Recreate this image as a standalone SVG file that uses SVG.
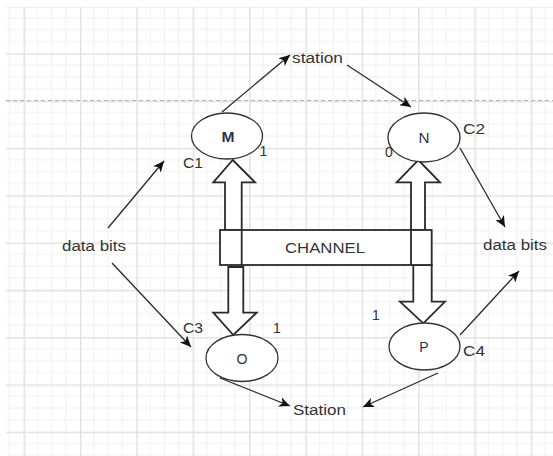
<svg xmlns="http://www.w3.org/2000/svg" width="553" height="456" viewBox="0 0 553 456">
  <style>
    .lbl { font-family: "Liberation Sans", Arial, sans-serif; font-size: 14px; fill: #333333; }
    .node-letter { font-family: "Liberation Sans", Arial, sans-serif; font-size: 14px; fill: #30304a; text-anchor: middle; }
    .node { fill: #ffffff; stroke: #333333; stroke-width: 1.3; }
    .block { fill: #ffffff; stroke: #2a2a2a; stroke-width: 1.8; stroke-linejoin: miter; }
    .conn { fill: none; stroke: #2a2a2a; stroke-width: 1.3; marker-end: url(#arrow); }
  </style>
  <defs>
    <marker id="arrow" markerUnits="userSpaceOnUse" markerWidth="12" markerHeight="10" refX="11" refY="5" orient="auto">
      <path d="M0,0 L11,5 L0,10 L3,5 z" fill="#111111"/>
    </marker>
    <pattern id="grid" patternUnits="userSpaceOnUse" x="23.6" y="53.3" width="56.35" height="47.3">
      <g stroke="#f0f0f0" stroke-width="1">
        <line x1="14.09" y1="0" x2="14.09" y2="47.3"/>
        <line x1="28.18" y1="0" x2="28.18" y2="47.3"/>
        <line x1="42.26" y1="0" x2="42.26" y2="47.3"/>
        <line x1="0" y1="11.83" x2="56.35" y2="11.83"/>
        <line x1="0" y1="23.65" x2="56.35" y2="23.65"/>
        <line x1="0" y1="35.48" x2="56.35" y2="35.48"/>
      </g>
      <g stroke="#e1e1e1" stroke-width="1.5">
        <line x1="0.75" y1="0" x2="0.75" y2="47.3"/>
        <line x1="0" y1="0.75" x2="56.35" y2="0.75"/>
      </g>
    </pattern>
  </defs>

  <!-- page background and grid -->
  <rect x="0" y="0" width="553" height="456" fill="#ffffff"/>
  <rect x="6" y="7" width="547" height="449" fill="url(#grid)"/>
  <line x1="6" y1="100.6" x2="553" y2="100.6" stroke="#b0b0b0" stroke-width="1" stroke-dasharray="4 3"/>

  <!-- block arrows between the channel and the stations -->
  <g id="link-m">
    <polygon class="block" points="232.7,160 255,182.3 241.7,182.3 241.7,230 225,230 225,182.3 213.3,182.3"/>
  </g>
  <g id="link-o">
    <polygon class="block" points="228.3,267 243.3,267 243.3,312.7 256.7,312.7 233.3,335 213.3,312.7 228.3,312.7"/>
  </g>
  <g id="link-n">
    <polygon class="block" points="418.3,160 440,182.3 425,182.3 425,230 411,230 411,182.3 396.7,182.3"/>
  </g>
  <g id="link-p">
    <polygon class="block" points="413.3,265 431.7,265 431.7,301.7 445,301.7 423.3,323.3 400,301.7 413.3,301.7"/>
  </g>

  <!-- shared channel -->
  <g id="channel">
    <rect class="block" x="220" y="230" width="211.7" height="35"/>
    <line x1="241.7" y1="230" x2="241.7" y2="265" stroke="#2a2a2a" stroke-width="1.8"/>
    <line x1="411" y1="230" x2="411" y2="265" stroke="#2a2a2a" stroke-width="1.8"/>
    <text class="lbl" x="285" y="253" font-size="15" textLength="80" lengthAdjust="spacingAndGlyphs">CHANNEL</text>
  </g>

  <!-- stations -->
  <g id="node-m">
    <ellipse class="node" cx="227" cy="136" rx="35.5" ry="23"/>
    <text class="node-letter" x="228" y="141.5" font-weight="bold" textLength="13" lengthAdjust="spacingAndGlyphs">M</text>
    <text class="lbl" x="183" y="168" textLength="20" lengthAdjust="spacingAndGlyphs">C1</text>
    <text class="lbl" x="259.5" y="156">1</text>
  </g>
  <g id="node-n">
    <ellipse class="node" cx="424" cy="137.5" rx="36" ry="24.5"/>
    <text class="node-letter" x="424" y="142.5" textLength="11" lengthAdjust="spacingAndGlyphs">N</text>
    <text class="lbl" x="463" y="134" textLength="22" lengthAdjust="spacingAndGlyphs">C2</text>
    <text class="lbl" x="385" y="157">0</text>
  </g>
  <g id="node-o">
    <ellipse class="node" cx="242" cy="358" rx="36" ry="23.5"/>
    <text class="node-letter" x="242" y="363.5" textLength="11" lengthAdjust="spacingAndGlyphs">O</text>
    <text class="lbl" x="183" y="333" textLength="20" lengthAdjust="spacingAndGlyphs">C3</text>
    <text class="lbl" x="273" y="333">1</text>
  </g>
  <g id="node-p">
    <ellipse class="node" cx="424.5" cy="346.5" rx="35.5" ry="23.5"/>
    <text class="node-letter" x="424" y="352">P</text>
    <text class="lbl" x="463" y="356" textLength="22" lengthAdjust="spacingAndGlyphs">C4</text>
    <text class="lbl" x="372" y="320">1</text>
  </g>

  <!-- free labels -->
  <g id="label-station-top">
    <text class="lbl" x="292" y="63" textLength="51" lengthAdjust="spacingAndGlyphs">station</text>
  </g>
  <g id="label-station-bottom">
    <text class="lbl" x="293" y="415" textLength="53" lengthAdjust="spacingAndGlyphs">Station</text>
  </g>
  <g id="label-data-left">
    <text class="lbl" x="62" y="251" textLength="64" lengthAdjust="spacingAndGlyphs">data bits</text>
  </g>
  <g id="label-data-right">
    <text class="lbl" x="483" y="250" textLength="64" lengthAdjust="spacingAndGlyphs">data bits</text>
  </g>

  <!-- connectors -->
  <g id="connectors">
    <line class="conn" x1="222" y1="112" x2="290" y2="55"/>
    <line class="conn" x1="347" y1="65" x2="411" y2="107"/>
    <line class="conn" x1="460" y1="148" x2="505" y2="227"/>
    <line class="conn" x1="460" y1="335" x2="519" y2="271"/>
    <line class="conn" x1="438" y1="373" x2="363" y2="407"/>
    <line class="conn" x1="220" y1="378" x2="290" y2="406"/>
    <line class="conn" x1="108" y1="228" x2="164" y2="161"/>
    <line class="conn" x1="112" y1="263" x2="191" y2="347"/>
  </g>
</svg>
